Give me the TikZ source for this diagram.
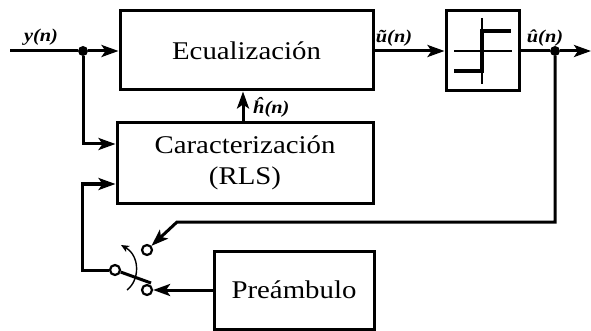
\documentclass[tikz,border=0pt]{standalone}
\usepackage{fontspec}
\setmainfont{Liberation Serif}[FakeStretch=1.13]
\usetikzlibrary{arrows.meta}
\begin{document}
\begin{tikzpicture}[x=1pt,y=-1pt,
  blk/.style={draw,line width=3pt,inner sep=0pt,font=\fontsize{25.5}{31}\selectfont,align=center},
  wire/.style={line width=3pt},
  arr/.style={wire,-{Stealth[length=17pt,width=12pt,inset=4pt]}},
  lbl/.style={font=\fontsize{18}{20}\selectfont\bfseries\itshape,inner sep=0pt},
  dot/.style={circle,fill=black,inner sep=0pt,minimum size=10pt},
  contact/.style={circle,draw,fill=white,line width=2.2pt,inner sep=0pt,minimum size=10pt}]
\useasboundingbox (0,0) rectangle (591,331);
% blocks
\node[blk,minimum width=253pt,minimum height=79pt] (eq) at (246.5,50.5) {Ecualización};
\node[blk,minimum width=256pt,minimum height=80pt] (car) at (245,163) {Caracterización\\(RLS)};
\node[blk,minimum width=73pt,minimum height=80pt] (dec) at (482.5,51) {};
\node[blk,minimum width=160pt,minimum height=78pt] (pre) at (294,290) {Preámbulo};
% decision symbol
\draw[line width=1.4pt] (454,51) -- (512,51);
\draw[line width=1.4pt] (482,18) -- (482,84);
\draw[line width=4.2pt] (454,71) -- (482,71) -- (482,31) -- (511,31);
% input
\coordinate (in) at (10,51);
\node[dot] (j1) at (83,51) {};
\coordinate (j1b) at (83,144);
\draw[wire] (in) -- (j1);
\draw[arr] (j1) -- (eq.west |- j1);
\draw[arr] (j1) -- (j1b) -- (car.west |- j1b);
\node[lbl] (ly) at (41,37) {y(n)};
% h hat
\coordinate (hs) at (243,123);
\draw[arr] (hs) -- (hs |- eq.south);
\node[lbl,anchor=west] (lh) at (253,107) {ĥ(n)};
% u tilde
\draw[arr] (eq.east |- 0,51) -- (dec.west |- 0,51);
\node[lbl] (lu) at (394,38) {ũ(n)};
% output
\node[dot] (j2) at (555,51) {};
\coordinate (out) at (591,51);
\draw[wire] (dec.east |- j2) -- (j2);
\draw[arr] (j2) -- (out);
\node[lbl] (luh) at (545,38) {û(n)};
% switch
\node[contact] (c1) at (147,250) {};
\node[contact] (c2) at (147,290) {};
\node[contact] (pv) at (115,270) {};
\coordinate (lev) at (151,283);
\draw[wire] (pv) -- (lev);
\draw[line width=1.4pt,-{Stealth[length=8pt,width=7pt,inset=2pt]}] (127,290) .. controls (140,280) and (140,256) .. (121,245);
% feedback
\coordinate (fb1) at (555,222);
\coordinate (fb2) at (177,222);
\draw[arr] (j2) -- (fb1) -- (fb2) -- (c1);
% preamble to switch
\draw[arr] (pre.west |- c2) -- (c2);
% pivot to characterization
\coordinate (l1) at (82,270);
\coordinate (l2) at (82,184);
\draw[arr] (pv) -- (l1) -- (l2) -- (car.west |- l2);
\end{tikzpicture}
\end{document}
